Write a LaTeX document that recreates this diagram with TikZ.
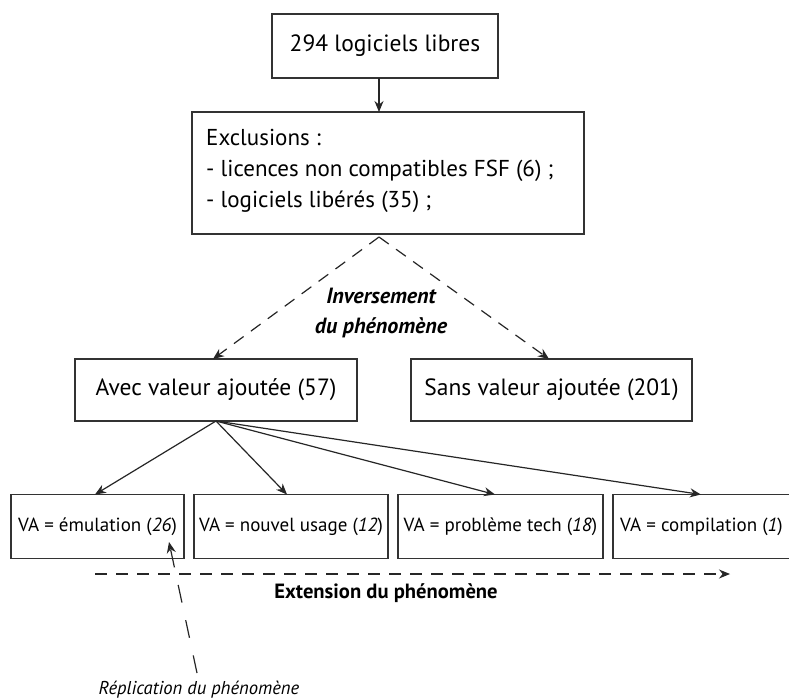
\documentclass[tikz,border=0pt]{standalone}
\usepackage{fontspec}
\setmainfont{PT Sans}
\usetikzlibrary{arrows.meta}
\tikzset{
  box/.style={draw=black!80, line width=1.3pt, inner sep=0pt},
  conn/.style={draw=black!85, line width=1.2pt, -{Stealth[length=11pt,width=9pt]}},
  dconn/.style={conn, dash pattern=on 12pt off 9pt},
  txt/.style={inner sep=0pt, font=\fontsize{23.5}{28}\selectfont},
  small/.style={inner sep=0pt, font=\fontsize{19}{23}\selectfont},
}
\begin{document}
\begin{tikzpicture}[x=1pt,y=-1pt]
\clip (0,0) rectangle (789,699);
\fill[white] (0,0) rectangle (789,699);
% boxes
\node[box, minimum width=226pt, minimum height=64pt, txt] (top) at (385,46) {294 logiciels libres};
\node[box, minimum width=392pt, minimum height=122pt] (excl) at (388,173) {};
\node[txt, anchor=north west, align=left, font=\fontsize{23}{31}\selectfont] (excltxt) at (206,129) {Exclusions :\\- licences non compatibles FSF (6) ;\\- logiciels libérés (35) ;};
\node[box, minimum width=282pt, minimum height=62pt, txt] (avec) at (216,390) {Avec valeur ajoutée (57)};
\node[box, minimum width=281pt, minimum height=62pt, txt] (sans) at (551.5,390) {Sans valeur ajoutée (201)};
\node[box, minimum width=173pt, minimum height=64pt, small] (b1) at (97.5,526.5) {VA = émulation (\textit{26})};
\node[box, minimum width=194pt, minimum height=64pt, small] (b2) at (291,526.5) {VA = nouvel usage (\textit{12})};
\node[box, minimum width=205pt, minimum height=64pt, small] (b3) at (500.5,526.5) {VA = problème tech (\textit{18})};
\node[box, minimum width=190pt, minimum height=64pt] (b4) at (708,526.5) {};
\node[small, anchor=west] (b4txt) at (620,526.5) {VA = compilation (\textit{1})};
% labels
\node[inner sep=0pt, align=center, font=\fontsize{22}{30}\selectfont\bfseries\itshape] (inv) at (381,313) {Inversement\\du phénomène};
\node[inner sep=0pt, font=\fontsize{20.6}{24}\selectfont\bfseries] (ext) at (386,593) {Extension du phénomène};
\node[inner sep=0pt, font=\fontsize{18.6}{22}\selectfont\itshape] (rep) at (199,690) {Réplication du phénomène};
% coordinates
\coordinate (apex) at (379,237);
\coordinate (avectop) at (213,359);
\coordinate (sanstop) at (549,359);
\coordinate (hub) at (216,421);
\coordinate (b1top) at (95,494.5);
\coordinate (b2top) at (287,494.5);
\coordinate (b3top) at (495,494.5);
\coordinate (b4top) at (701,494.5);
\coordinate (extA) at (95,574);
\coordinate (extB) at (730,574);
\coordinate (repA) at (197,673);
\coordinate (repB) at (169,542);
% connectors
\draw[conn] (379,78) -- (379,112);
\draw[dconn] (apex) -- (avectop);
\draw[dconn] (apex) -- (sanstop);
\draw[conn] (hub) -- (b1top);
\draw[conn] (hub) -- (b2top);
\draw[conn] (hub) -- (b3top);
\draw[conn] (hub) -- (b4top);
\draw[dconn] (extA) -- (extB);
\draw[dconn, dash pattern=on 18pt off 18pt] (repA) -- (repB);
\end{tikzpicture}
\end{document}
